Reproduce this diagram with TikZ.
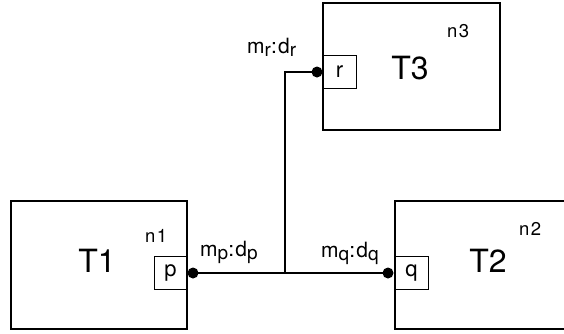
\documentclass[tikz,border=0pt]{standalone}
\usepackage{fontspec}
\setmainfont{TeX Gyre Heros}
\usetikzlibrary{calc}

\newcommand{\lowsub}[1]{\raisebox{-0.28ex}{\fontsize{19}{19}\selectfont\addfontfeature{LetterSpace=6}#1}}

\tikzset{
    typebox/.style={draw, line width=1.2pt, minimum width=176pt, minimum height=128pt, inner sep=0pt},
    portbox/.style={draw, line width=0.9pt, minimum size=33pt, inner sep=0pt, font=\fontsize{22}{22}\selectfont},
    junction/.style={circle, fill=black, minimum size=11pt, inner sep=0pt},
    typename/.style={font=\fontsize{32}{32}\selectfont, inner sep=0pt},
    instname/.style={font=\fontsize{18.5}{18.5}\selectfont\addfontfeature{LetterSpace=7}, inner sep=0pt, anchor=base west},
    wirename/.style={font=\fontsize{21}{21}\selectfont\addfontfeature{LetterSpace=6}, inner sep=0pt, anchor=base west},
    wire/.style={line width=1.1pt}
}

\begin{document}
\begin{tikzpicture}[x=1pt, y=-1pt]
    \useasboundingbox (0,0) rectangle (564,333);

    % Component boxes (T2 runs off the right edge)
    \node[typebox] (t1) at (99,265) {};
    \node[typebox, minimum width=180pt] (t2) at (485,265) {};
    \node[typebox, minimum width=177pt, minimum height=127pt] (t3) at (411.5,66.5) {};

    % Type and instance names
    \node[typename] (t1name) at (97,261) {T1};
    \node[typename] (t2name) at (488,261) {T2};
    \node[typename] (t3name) at (410,68) {T3};
    \node[instname] (n1) at (145,242) {n1};
    \node[instname] (n2) at (519,235) {n2};
    \node[instname] (n3) at (447,37) {n3};

    % Ports on the box edges
    \node[portbox] (p) at (170.5,272.5) {p};
    \node[portbox] (q) at (411.5,272.5) {q};
    \node[portbox] (r) at (339.5,72) {r};

    % Junction dots and the bend of the wire
    \node[junction] (dp) at (193,273) {};
    \node[junction] (dq) at (388,273) {};
    \node[junction] (dr) at (317,72) {};
    \coordinate (tee) at (285,273);

    % Wires
    \draw[wire] (dp.center) -- (dq.center);
    \draw[wire] (dr.center) -| (tee);

    % Connection labels
    \node[wirename] (lp) at (200,256) {m\lowsub{p}:d\lowsub{p}};
    \node[wirename] (lq) at (321,257) {m\lowsub{q}:d\lowsub{q}};
    \node[wirename] (lr) at (247,53) {m\lowsub{r}:d\lowsub{r}};
\end{tikzpicture}
\end{document}
